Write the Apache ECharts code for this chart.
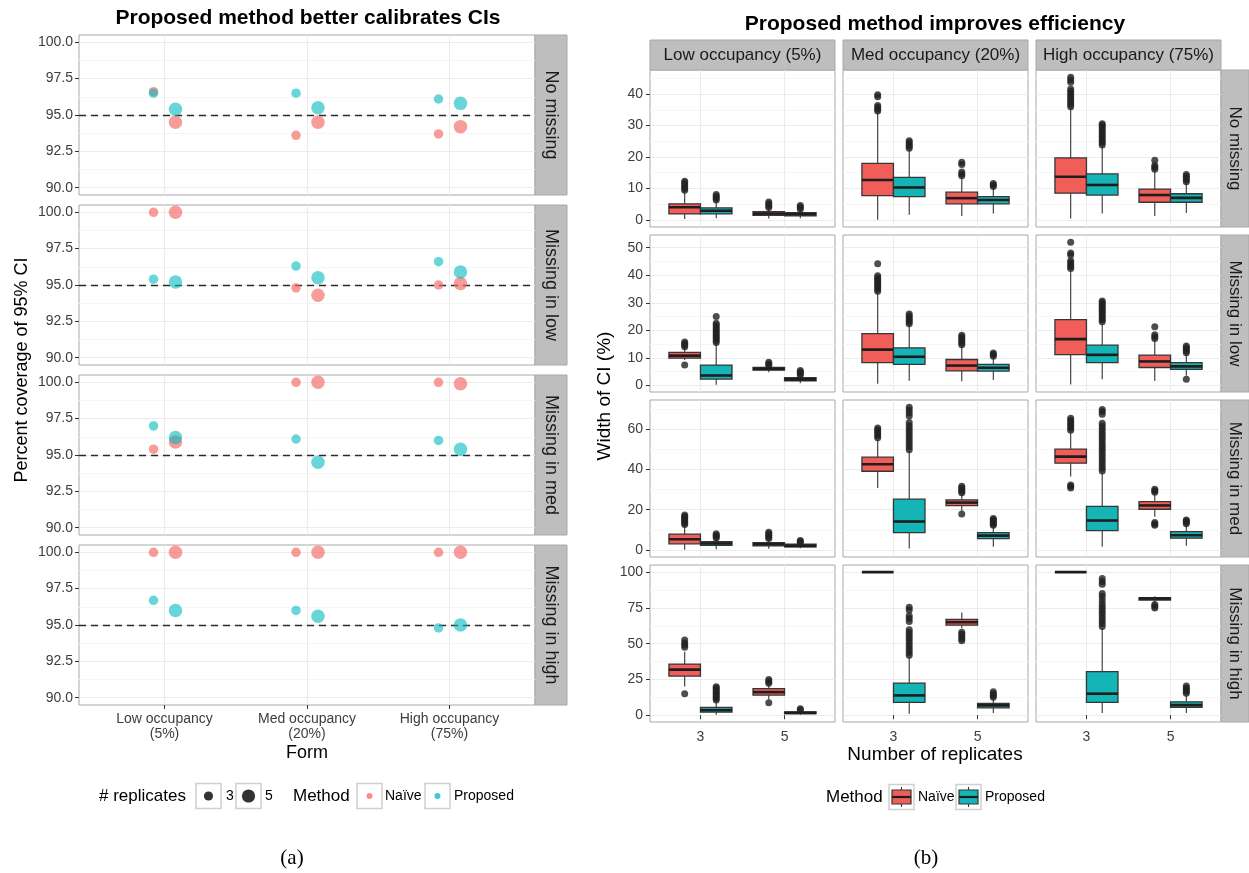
<!DOCTYPE html>
<html>
<head>
<meta charset="utf-8">
<title>CI coverage and width</title>
<script src="https://cdn.jsdelivr.net/npm/echarts@6/dist/echarts.min.js"></script>
<style>
  html, body { margin: 0; padding: 0; background: #ffffff; }
  #chart { width: 1249px; height: 873px; }
</style>
</head>
<body>
<div id="chart"></div>
<script>
// ---------------- data ----------------
const occupancyTicks = ['Low occupancy\n(5%)', 'Med occupancy\n(20%)', 'High occupancy\n(75%)'];
const occupancyStrips = ['Low occupancy (5%)', 'Med occupancy (20%)', 'High occupancy (75%)'];
const missingStrips = ['No missing', 'Missing in low', 'Missing in med', 'Missing in high'];
const replicateLabels = ['3', '5'];
const methodLabels = ['Naïve', 'Proposed'];

// (a) percent coverage of the 95% CI; rows = missingness, columns = occupancy
const coverNaive3 = [[96.6, 93.6, 93.7], [100.0, 94.8, 95.0], [95.4, 100.0, 100.0], [100.0, 100.0, 100.0]];
const coverNaive5 = [[94.5, 94.5, 94.2], [100.0, 94.3, 95.1], [95.9, 100.0, 99.9], [100.0, 100.0, 100.0]];
const coverProposed3 = [[96.5, 96.5, 96.1], [95.4, 96.3, 96.6], [97.0, 96.1, 96.0], [96.7, 96.0, 94.8]];
const coverProposed5 = [[95.4, 95.5, 95.8], [95.2, 95.5, 95.9], [96.2, 94.5, 95.4], [96.0, 95.6, 95.0]];
const nominalCoverage = 95;
const coverageLimits = [90, 100];
const coverageTicks = [90, 92.5, 95, 97.5, 100];
const coverageMinorTicks = [91.25, 93.75, 96.25, 98.75];

// (b) width of CI (%): [lower whisker, Q1, median, Q3, upper whisker]; rows = missingness, columns = occupancy
const naive3Box = [
  [[0.3, 1.9, 4.0, 5.1, 9.0], [0.0, 7.7, 12.7, 18.0, 34.0], [0.4, 8.5, 13.7, 19.7, 35.5]],
  [[9.2, 9.9, 10.8, 12.0, 13.6], [0.6, 8.3, 13.0, 18.8, 33.5], [0.3, 11.2, 16.8, 23.9, 41.5]],
  [[0.0, 3.0, 5.3, 7.8, 12.0], [30.8, 39.1, 42.6, 46.1, 54.7], [36.5, 43.1, 46.4, 50.1, 58.5]],
  [[20.0, 27.3, 31.8, 35.7, 44.4], [100, 100, 100, 100, 100], [100, 100, 100, 100, 100]]
];
const proposed3Box = [
  [[0.5, 1.9, 2.9, 3.8, 6.0], [1.6, 7.4, 10.3, 13.5, 22.2], [2.0, 7.9, 11.1, 14.6, 23.2]],
  [[0.2, 2.3, 3.6, 7.4, 15.0], [1.7, 7.6, 10.4, 13.6, 21.8], [2.2, 8.3, 11.1, 14.6, 22.5]],
  [[0.3, 2.2, 3.2, 4.1, 5.5], [0.7, 8.6, 14.1, 25.2, 49.0], [1.5, 9.6, 14.6, 21.6, 38.5]],
  [[0.2, 2.1, 3.5, 5.4, 10.0], [1.0, 8.9, 13.8, 22.4, 41.0], [1.5, 8.9, 15.0, 30.4, 61.0]]
];
const naive5Box = [
  [[0.4, 1.4, 2.0, 2.6, 3.6], [1.2, 5.1, 6.9, 8.8, 13.5], [1.2, 5.6, 7.9, 9.8, 15.5]],
  [[4.8, 5.6, 6.0, 6.5, 6.9], [1.5, 5.3, 7.2, 9.4, 14.2], [1.6, 6.5, 8.7, 11.0, 16.3]],
  [[0.5, 2.0, 2.8, 3.6, 5.0], [19.5, 22.0, 23.5, 24.9, 27.5], [16.5, 20.2, 22.1, 24.0, 27.5]],
  [[11.0, 14.0, 16.1, 18.5, 21.0], [60.7, 62.9, 65.0, 67.0, 71.7], [78.7, 80.4, 81.5, 82.2, 83.2]]
];
const proposed5Box = [
  [[0.5, 1.3, 1.8, 2.3, 3.0], [2.0, 5.1, 6.3, 7.4, 10.0], [2.2, 5.6, 7.0, 8.3, 11.5]],
  [[0.8, 1.7, 2.2, 2.8, 3.3], [2.0, 5.2, 6.4, 7.6, 10.0], [3.5, 5.8, 6.9, 8.3, 11.3]],
  [[0.8, 1.5, 2.0, 2.8, 3.1], [1.5, 5.6, 7.1, 8.6, 11.5], [2.0, 5.8, 7.3, 9.1, 12.3]],
  [[0.3, 1.0, 1.6, 2.3, 3.2], [1.5, 5.1, 6.8, 8.2, 11.8], [1.5, 5.4, 7.0, 9.3, 14.5]]
];

// outlying CI widths beyond the whiskers
const naive3Out = [
  [[9.4, 10.0, 10.6, 11.2, 11.8, 12.3], [34.6, 35.2, 35.8, 36.4, 39.2, 39.8],
   [36.0, 36.7, 37.4, 38.1, 38.8, 39.5, 40.2, 40.9, 41.6, 43.8, 44.6, 45.4]],
  [[7.4, 14.0, 14.6, 15.2, 15.8], [34.2, 34.9, 35.6, 36.3, 37.0, 37.7, 38.4, 39.1, 39.8, 44.2],
   [42.4, 43.1, 43.8, 44.5, 45.2, 47.3, 48.1, 52.0]],
  [[12.6, 13.4, 14.2, 15.0, 15.8, 16.6, 17.4], [55.8, 56.8, 57.8, 58.8, 59.8, 60.6],
   [30.8, 31.6, 32.3, 59.5, 60.5, 61.5, 62.5, 63.5, 64.5, 65.5]],
  [[15.0, 47.5, 49.0, 50.5, 52.5], [], []]
];
const proposed3Out = [
  [[6.3, 6.9, 7.5, 8.1], [22.8, 23.4, 24.0, 24.6, 25.2],
   [23.8, 24.5, 25.2, 25.9, 26.6, 27.3, 28.0, 28.7, 29.4, 30.1, 30.6]],
  [[15.6, 16.3, 17.0, 17.7, 18.4, 19.1, 19.8, 20.5, 21.2, 21.9, 22.6, 25.0],
   [22.4, 23.1, 23.8, 24.5, 25.2, 25.9],
   [23.1, 23.8, 24.5, 25.2, 25.9, 26.6, 27.3, 28.0, 28.7, 29.4, 30.1, 30.6]],
  [[5.9, 6.6, 7.3, 8.0],
   [49.8, 51.3, 52.8, 54.3, 55.8, 57.3, 58.8, 60.3, 61.8, 63.3, 66.6, 68.1, 69.6, 71.0],
   [39.2, 40.6, 42.0, 43.4, 44.8, 46.2, 47.6, 49.0, 50.4, 51.8, 53.2, 54.6, 56.0, 57.4, 58.8, 60.2, 61.6, 63.0, 67.4, 68.8, 69.8]],
  [[10.6, 11.8, 13.0, 14.2, 15.4, 16.6, 17.8, 19.0, 19.8],
   [41.8, 43.8, 45.8, 47.8, 49.8, 51.8, 53.8, 55.8, 57.8, 59.8, 65.5, 67.5, 69.5, 73.5, 75.5],
   [62.0, 64.0, 66.0, 68.0, 70.0, 72.0, 74.0, 76.0, 78.0, 80.5, 83.0, 85.0, 91.5, 93.5, 95.5]]
];
const naive5Out = [
  [[3.9, 4.5, 5.1, 5.7], [14.0, 14.6, 15.2, 17.6, 18.3], [16.1, 16.7, 17.3, 19.0]],
  [[7.2, 7.8, 8.4], [14.8, 15.5, 16.2, 16.9, 17.6, 18.2], [17.0, 17.7, 18.4, 21.3]],
  [[5.6, 6.4, 7.2, 8.0, 8.8], [17.8, 28.4, 29.2, 30.0, 30.8, 31.6], [12.2, 12.9, 13.6, 28.6, 29.4, 30.2]],
  [[8.6, 22.3, 23.6, 24.9], [52.0, 53.5, 55.0, 56.5, 58.0], [75.0, 76.2, 77.4]]
];
const proposed5Out = [
  [[3.4, 4.0, 4.6], [10.6, 11.1, 11.6], [12.1, 12.7, 13.3, 13.9, 14.4]],
  [[3.7, 4.3, 4.9, 5.4], [10.6, 11.2, 11.8], [2.2, 11.9, 12.5, 13.1, 13.7, 14.3]],
  [[3.5, 4.1, 4.6], [12.2, 12.9, 13.6, 14.3, 15.0, 15.6], [13.0, 13.7, 14.3, 14.9]],
  [[3.6, 4.4], [12.6, 13.8, 15.0, 16.3], [15.4, 16.6, 17.8, 19.0, 20.4]]
];
const widthTicks = [[0, 10, 20, 30, 40], [0, 10, 20, 30, 40, 50], [0, 20, 40, 60], [0, 25, 50, 75, 100]];
const widthMinorTicks = [[5, 15, 25, 35, 45], [5, 15, 25, 35, 45], [10, 30, 50, 70], [12.5, 37.5, 62.5, 87.5]];

// ---------------- styling ----------------
const SANS = '"Liberation Sans", Arial, Helvetica, sans-serif';
const SERIF = '"Liberation Serif", "DejaVu Serif", serif';
const TICK_TEXT = '#3d3d3d';
const STRIP_TEXT = '#1a1a1a';
const BORDER = '#a8a8a8';
const STRIP_FILL = '#bebebe';
const GRID_MAJOR = '#ebebeb';
const GRID_MINOR = '#f6f6f6';
const pointColors = ['rgba(243, 104, 98, 0.82)', 'rgba(0, 186, 190, 0.74)'];
const boxFills = ['#F15D58', '#15B4B7'];
const legendPointColors = ['rgba(243, 104, 98, 0.75)', 'rgba(0, 186, 190, 0.75)'];

const grids = [], xAxes = [], yAxes = [], series = [], graphics = [];

function text(x, y, str, size, opts) {
  const o = opts || {};
  return {
    type: 'text', x: x, y: y, rotation: o.rotation || 0, silent: true,
    style: {
      text: str, fill: o.color || '#000', fontSize: size, fontFamily: o.family || SANS,
      fontWeight: o.weight || 'normal',
      textAlign: o.align || 'center', align: o.align || 'center',
      textVerticalAlign: 'middle', verticalAlign: 'middle'
    }
  };
}
function rect(x, y, w, h, fill, stroke, lw) {
  return { type: 'rect', silent: true, shape: { x: x, y: y, width: w, height: h },
           style: { fill: fill, stroke: stroke, lineWidth: lw === undefined ? 1 : lw } };
}
function addGrid(left, top, width, height) {
  grids.push({ left: left, top: top, width: width, height: height, show: true,
               backgroundColor: '#ffffff', borderColor: BORDER, borderWidth: 1,
               containLabel: false, outerBoundsMode: 'none' });
  return grids.length - 1;
}
function valueAxis(gi, range, ticks, showTicks, labelOpts, lineColor) {
  return {
    type: 'value', gridIndex: gi, min: range[0], max: range[1], scale: true,
    axisLine: { show: false },
    axisTick: { show: showTicks, customValues: ticks, length: 4, lineStyle: { color: '#333333', width: 1 } },
    axisLabel: Object.assign({ show: false, customValues: ticks, color: TICK_TEXT, fontSize: 14, fontFamily: SANS }, labelOpts || {}),
    splitLine: { show: true, lineStyle: { color: lineColor, width: 1 } },
    minorSplitLine: { show: false }
  };
}
function minorAxis(gi, range, ticks) {
  return valueAxis(gi, range, ticks, false, null, GRID_MINOR);
}

// ---------------- (a) coverage panels ----------------
const covLeft = 79, covWidth = 456, covHeight = 160, covStrip = 32;
const covTops = [35, 205, 375, 545];
const covPad = (coverageLimits[1] - coverageLimits[0]) * 0.05;
const covRange = [coverageLimits[0] - covPad, coverageLimits[1] + covPad];
const repDodge = [-0.077, 0.077];
const repDotSize = [9.5, 13.5];
const coverSets = [
  { values: coverNaive3, rep: 0, method: 0 },
  { values: coverNaive5, rep: 1, method: 0 },
  { values: coverProposed3, rep: 0, method: 1 },
  { values: coverProposed5, rep: 1, method: 1 }
];
const occPositions = occupancyTicks.map((_, i) => i + 1);

missingStrips.forEach((label, r) => {
  const gi = addGrid(covLeft, covTops[r], covWidth, covHeight);
  const bottom = r === missingStrips.length - 1;
  const xi = xAxes.length;
  xAxes.push(valueAxis(gi, [0.4, occupancyTicks.length + 0.6], occPositions, bottom,
    { show: bottom, margin: 7, lineHeight: 15, formatter: v => occupancyTicks[Math.round(v) - 1] }, GRID_MAJOR));
  const yi = yAxes.length;
  yAxes.push(valueAxis(gi, covRange, coverageTicks, true,
    { show: true, margin: 6, formatter: v => v.toFixed(1) }, GRID_MAJOR));
  yAxes.push(minorAxis(gi, covRange, coverageMinorTicks));

  // nominal 95% reference line
  series.push({
    type: 'line', xAxisIndex: xi, yAxisIndex: yi, data: [], silent: true, z: 1,
    markLine: { silent: true, symbol: 'none', z: 1, animation: false, label: { show: false },
                lineStyle: { color: '#2b2b2b', type: [7, 5], width: 1.35 },
                data: [{ yAxis: nominalCoverage }] }
  });
  coverSets.forEach(set => {
    series.push({
      type: 'scatter', xAxisIndex: xi, yAxisIndex: yi, silent: true, z: 3,
      symbolSize: repDotSize[set.rep],
      itemStyle: { color: pointColors[set.method] },
      data: set.values[r].map((v, c) => [occPositions[c] + repDodge[set.rep], v])
    });
  });

  graphics.push(rect(covLeft + covWidth, covTops[r], covStrip, covHeight, STRIP_FILL, BORDER));
  graphics.push(text(covLeft + covWidth + covStrip / 2, covTops[r] + covHeight / 2, label, 18,
    { rotation: -Math.PI / 2, color: STRIP_TEXT }));
});

graphics.push(text(308, 18, 'Proposed method better calibrates CIs', 21, { weight: 'bold' }));
graphics.push(text(22, 370, 'Percent coverage of 95% CI', 18, { rotation: Math.PI / 2 }));
graphics.push(text(307, 753, 'Form', 18));
// legend (a)
graphics.push(text(99, 796, '# replicates', 17, { align: 'left' }));
graphics.push(rect(196, 783.5, 25, 25, '#ffffff', '#d0d0d0', 1.5));
graphics.push({ type: 'circle', silent: true, shape: { cx: 208.5, cy: 796, r: 4.6 }, style: { fill: '#333333' } });
graphics.push(text(226, 796, replicateLabels[0], 14, { align: 'left' }));
graphics.push(rect(236, 783.5, 25, 25, '#ffffff', '#d0d0d0', 1.5));
graphics.push({ type: 'circle', silent: true, shape: { cx: 248.5, cy: 796, r: 6.6 }, style: { fill: '#333333' } });
graphics.push(text(265, 796, replicateLabels[1], 14, { align: 'left' }));
graphics.push(text(293, 796, 'Method', 17, { align: 'left' }));
graphics.push(rect(357, 783.5, 25, 25, '#ffffff', '#d0d0d0', 1.5));
graphics.push({ type: 'circle', silent: true, shape: { cx: 369.5, cy: 796, r: 3 }, style: { fill: legendPointColors[0] } });
graphics.push(text(385, 796, methodLabels[0], 14, { align: 'left' }));
graphics.push(rect(425, 783.5, 25, 25, '#ffffff', '#d0d0d0', 1.5));
graphics.push({ type: 'circle', silent: true, shape: { cx: 437.5, cy: 796, r: 3 }, style: { fill: legendPointColors[1] } });
graphics.push(text(454, 796, methodLabels[1], 14, { align: 'left' }));
graphics.push(text(292, 858, '(a)', 21, { family: SERIF }));

// ---------------- (b) CI width panels ----------------
const colLefts = [650, 843, 1036];
const colWidth = 185;
const rowTops = [70, 235, 400, 565];
const rowHeight = 157;
const stripH = 30, sideStrip = 28;
const boxHalf = 0.1875;
const methodDodge = [-0.1875, 0.1875];
const boxSets = [
  { stats: naive3Box, out: naive3Out, rep: 0, method: 0 },
  { stats: proposed3Box, out: proposed3Out, rep: 0, method: 1 },
  { stats: naive5Box, out: naive5Out, rep: 1, method: 0 },
  { stats: proposed5Box, out: proposed5Out, rep: 1, method: 1 }
];
const repPositions = replicateLabels.map((_, i) => i + 1);

function rowRange(r) {
  let lo = Infinity, hi = -Infinity;
  boxSets.forEach(s => s.stats[r].forEach((b, c) => {
    lo = Math.min(lo, b[0], ...s.out[r][c]);
    hi = Math.max(hi, b[4], ...s.out[r][c]);
  }));
  const pad = (hi - lo) * 0.05;
  return [lo - pad, hi + pad];
}

function renderBox(params, api) {
  const x = api.value(0);
  const lo = api.value(1), q1 = api.value(2), md = api.value(3), q3 = api.value(4), hi = api.value(5);
  const fill = boxFills[api.value(6)];
  const pHi = api.coord([x, hi]), pQ3 = api.coord([x, q3]);
  const pQ1 = api.coord([x, q1]), pLo = api.coord([x, lo]);
  const tl = api.coord([x - boxHalf, q3]), br = api.coord([x + boxHalf, q1]);
  const mL = api.coord([x - boxHalf, md]), mR = api.coord([x + boxHalf, md]);
  return {
    type: 'group',
    children: [
      { type: 'line', shape: { x1: pHi[0], y1: pHi[1], x2: pQ3[0], y2: pQ3[1] }, style: { stroke: '#333333', lineWidth: 1.1 } },
      { type: 'line', shape: { x1: pQ1[0], y1: pQ1[1], x2: pLo[0], y2: pLo[1] }, style: { stroke: '#333333', lineWidth: 1.1 } },
      { type: 'rect', shape: { x: tl[0], y: tl[1], width: br[0] - tl[0], height: br[1] - tl[1] },
        style: { fill: fill, stroke: '#363636', lineWidth: 1.3 } },
      { type: 'line', shape: { x1: mL[0], y1: mL[1], x2: mR[0], y2: mR[1] }, style: { stroke: '#1e1e1e', lineWidth: 2.6 } }
    ]
  };
}

missingStrips.forEach((rowLabel, r) => {
  const range = rowRange(r);
  occupancyStrips.forEach((colLabel, c) => {
    const gi = addGrid(colLefts[c], rowTops[r], colWidth, rowHeight);
    const bottom = r === missingStrips.length - 1;
    const xi = xAxes.length;
    xAxes.push(valueAxis(gi, [0.4, replicateLabels.length + 0.6], repPositions, bottom,
      { show: bottom, margin: 8, formatter: v => replicateLabels[Math.round(v) - 1] }, GRID_MAJOR));
    const yi = yAxes.length;
    yAxes.push(valueAxis(gi, range, widthTicks[r], c === 0,
      { show: c === 0, margin: 7, formatter: v => String(v) }, GRID_MAJOR));
    yAxes.push(minorAxis(gi, range, widthMinorTicks[r]));

    series.push({
      type: 'custom', xAxisIndex: xi, yAxisIndex: yi, silent: true, z: 2, clip: false,
      renderItem: renderBox,
      encode: { x: 0, y: [1, 2, 3, 4, 5] },
      data: boxSets.map(s => [repPositions[s.rep] + methodDodge[s.method]].concat(s.stats[r][c], [s.method]))
    });
    const outliers = [];
    boxSets.forEach(s => s.out[r][c].forEach(v => outliers.push([repPositions[s.rep] + methodDodge[s.method], v])));
    series.push({
      type: 'scatter', xAxisIndex: xi, yAxisIndex: yi, silent: true, z: 3,
      symbolSize: 7, itemStyle: { color: '#222222' }, data: outliers
    });

    if (r === 0) {
      graphics.push(rect(colLefts[c], rowTops[0] - stripH, colWidth, stripH, STRIP_FILL, BORDER));
      graphics.push(text(colLefts[c] + colWidth / 2, rowTops[0] - stripH / 2, colLabel, 17, { color: STRIP_TEXT }));
    }
  });
  const sx = colLefts[2] + colWidth;
  graphics.push(rect(sx, rowTops[r], sideStrip, rowHeight, STRIP_FILL, BORDER));
  graphics.push(text(sx + sideStrip / 2, rowTops[r] + rowHeight / 2, rowLabel, 17,
    { rotation: -Math.PI / 2, color: STRIP_TEXT }));
});

graphics.push(text(935, 24, 'Proposed method improves efficiency', 21, { weight: 'bold' }));
graphics.push(text(605, 396, 'Width of CI (%)', 19, { rotation: Math.PI / 2 }));
graphics.push(text(935, 755, 'Number of replicates', 19));
// legend (b)
graphics.push(text(826, 797, 'Method', 17, { align: 'left' }));
[[889, 0, 918], [956, 1, 985]].forEach(([kx, m, tx]) => {
  graphics.push(rect(kx, 784.5, 25, 25, '#ffffff', '#d0d0d0', 1.5));
  graphics.push({ type: 'line', silent: true, shape: { x1: kx + 12.5, y1: 787, x2: kx + 12.5, y2: 807 },
                  style: { stroke: '#333333', lineWidth: 1.1 } });
  graphics.push(rect(kx + 3, 790, 19, 14, boxFills[m], '#363636', 1.2));
  graphics.push({ type: 'line', silent: true, shape: { x1: kx + 3, y1: 797, x2: kx + 22, y2: 797 },
                  style: { stroke: '#1e1e1e', lineWidth: 2.2 } });
  graphics.push(text(tx, 797, methodLabels[m], 14, { align: 'left' }));
});
graphics.push(text(926, 858, '(b)', 21, { family: SERIF }));

const chart = echarts.init(document.getElementById('chart'), null, { renderer: 'canvas' });
chart.setOption({
  animation: false,
  backgroundColor: '#ffffff',
  textStyle: { fontFamily: SANS },
  grid: grids,
  xAxis: xAxes,
  yAxis: yAxes,
  series: series,
  graphic: { elements: graphics }
});
</script>
</body>
</html>
